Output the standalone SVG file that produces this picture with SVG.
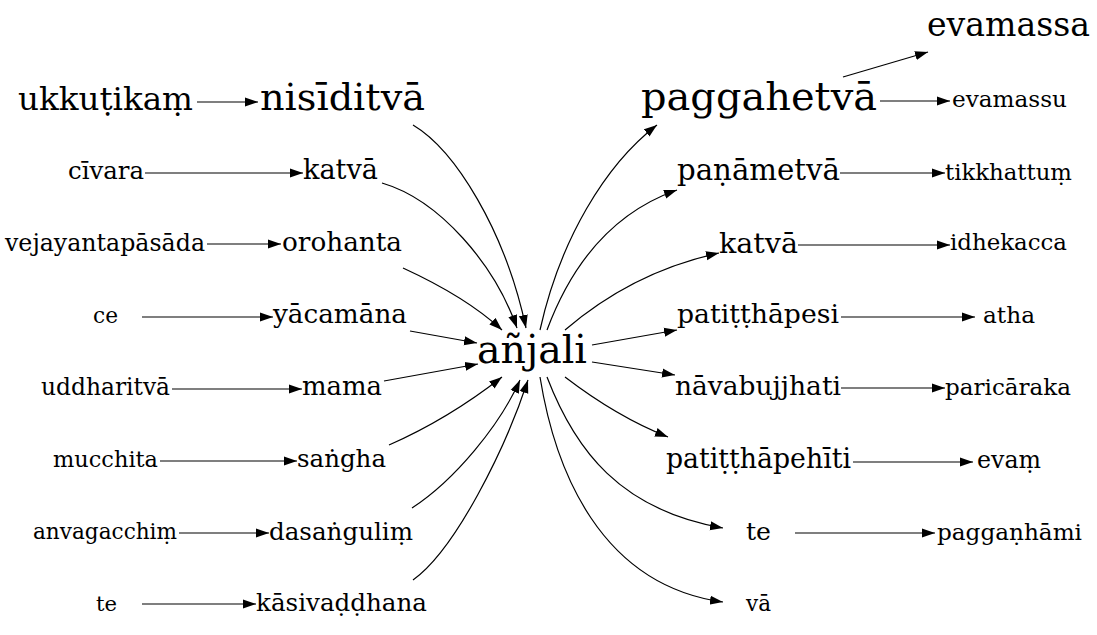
<svg xmlns="http://www.w3.org/2000/svg" width="1097" height="635" viewBox="0 0 1097 635">
<style>
text{font-family:"DejaVu Serif","Liberation Serif",serif;fill:#000;text-anchor:middle}
.e{fill:none;stroke:#000;stroke-width:1.2;marker-end:url(#ah)}
</style>
<defs>
<marker id="ah" markerUnits="userSpaceOnUse" markerWidth="13" markerHeight="10" viewBox="0 0 13 10" refX="13" refY="5" orient="auto">
<path d="M0,0.5 L13,5 L0,9.5 z" fill="#000"/>
</marker>
</defs>
<rect width="1097" height="635" fill="#fff"/>
<g id="edges">
<path class="e" d="M197,102 L258,102"/>
<path class="e" d="M145,173 L303,173"/>
<path class="e" d="M207,244 L281,244"/>
<path class="e" d="M142,317 L273,317"/>
<path class="e" d="M172,389 L302,389"/>
<path class="e" d="M160,461 L297,461"/>
<path class="e" d="M179,533 L269,533"/>
<path class="e" d="M142,604 L256,604"/>
<path class="e" d="M413,125 C455,150 505,230 526,328"/>
<path class="e" d="M382,183 C440,200 495,265 517,328"/>
<path class="e" d="M403,268 C440,285 475,305 502,330"/>
<path class="e" d="M410,331 L477,343"/>
<path class="e" d="M384,381 L478,364"/>
<path class="e" d="M389,445 C430,427 470,402 502,377"/>
<path class="e" d="M412,508 C455,480 500,425 520,380"/>
<path class="e" d="M413,580 C455,550 505,450 528,380"/>
<path class="e" d="M540,330 C560,240 605,165 657,125"/>
<path class="e" d="M547,330 C575,255 620,210 677,190"/>
<path class="e" d="M565,330 C600,300 650,268 719,253"/>
<path class="e" d="M592,345 L677,330"/>
<path class="e" d="M592,362 L675,375"/>
<path class="e" d="M565,377 C595,400 630,422 668,437"/>
<path class="e" d="M547,377 C575,450 620,510 723,528"/>
<path class="e" d="M540,377 C555,470 600,585 723,602"/>
<path class="e" d="M843,77 L928,52"/>
<path class="e" d="M880,101 L950,101"/>
<path class="e" d="M840,173 L945,173"/>
<path class="e" d="M798,245 L950,245"/>
<path class="e" d="M841,317 L975,317"/>
<path class="e" d="M841,388 L945,388"/>
<path class="e" d="M853,462 L973,462"/>
<path class="e" d="M795,533 L935,533"/>
</g>
<g id="n_ukkutikam"><text x="105.5" y="110" font-size="32.4" textLength="175" lengthAdjust="spacingAndGlyphs">ukkuṭikaṃ</text></g>
<g id="n_nisiditva"><text x="342.5" y="110" font-size="38" textLength="165" lengthAdjust="spacingAndGlyphs">nisīditvā</text></g>
<g id="n_civara"><text x="106" y="179" font-size="24.5" textLength="76" lengthAdjust="spacingAndGlyphs">cīvara</text></g>
<g id="n_katva_l"><text x="340.5" y="179" font-size="27" textLength="75" lengthAdjust="spacingAndGlyphs">katvā</text></g>
<g id="n_vejayantapasada"><text x="105" y="251" font-size="23.7" textLength="200" lengthAdjust="spacingAndGlyphs">vejayantapāsāda</text></g>
<g id="n_orohanta"><text x="342" y="251" font-size="26.3" textLength="120" lengthAdjust="spacingAndGlyphs">orohanta</text></g>
<g id="n_ce"><text x="105.5" y="323" font-size="21.7" textLength="25" lengthAdjust="spacingAndGlyphs">ce</text></g>
<g id="n_yacamana"><text x="340" y="323" font-size="26.3" textLength="134" lengthAdjust="spacingAndGlyphs">yācamāna</text></g>
<g id="n_uddharitva"><text x="105.5" y="395" font-size="23.4" textLength="129" lengthAdjust="spacingAndGlyphs">uddharitvā</text></g>
<g id="n_mama"><text x="342" y="395" font-size="26" textLength="80" lengthAdjust="spacingAndGlyphs">mama</text></g>
<g id="n_mucchita"><text x="105.5" y="467" font-size="22.5" textLength="105" lengthAdjust="spacingAndGlyphs">mucchita</text></g>
<g id="n_sangha"><text x="341.5" y="467" font-size="24.5" textLength="89" lengthAdjust="spacingAndGlyphs">saṅgha</text></g>
<g id="n_anvagacchim"><text x="105" y="539" font-size="21.6" textLength="144" lengthAdjust="spacingAndGlyphs">anvagacchiṃ</text></g>
<g id="n_dasangulim"><text x="341" y="540" font-size="24.6" textLength="144" lengthAdjust="spacingAndGlyphs">dasaṅguliṃ</text></g>
<g id="n_te_l"><text x="106.5" y="611" font-size="21" textLength="21" lengthAdjust="spacingAndGlyphs">te</text></g>
<g id="n_kasivaddhana"><text x="341.5" y="611" font-size="24.6" textLength="171" lengthAdjust="spacingAndGlyphs">kāsivaḍḍhana</text></g>
<g id="n_anjali"><text x="532" y="363" font-size="39.3" textLength="110" lengthAdjust="spacingAndGlyphs">añjali</text></g>
<g id="n_paggahetva"><text x="759" y="110" font-size="40" textLength="236" lengthAdjust="spacingAndGlyphs">paggahetvā</text></g>
<g id="n_panametva"><text x="758.5" y="180" font-size="29.2" textLength="163" lengthAdjust="spacingAndGlyphs">paṇāmetvā</text></g>
<g id="n_katva_r"><text x="758.5" y="253" font-size="28.5" textLength="79" lengthAdjust="spacingAndGlyphs">katvā</text></g>
<g id="n_patitthapesi"><text x="758" y="323" font-size="26.7" textLength="162" lengthAdjust="spacingAndGlyphs">patiṭṭhāpesi</text></g>
<g id="n_navabujjhati"><text x="758" y="395" font-size="26.2" textLength="166" lengthAdjust="spacingAndGlyphs">nāvabujjhati</text></g>
<g id="n_patitthapehiti"><text x="758.5" y="468" font-size="27.1" textLength="185" lengthAdjust="spacingAndGlyphs">patiṭṭhāpehīti</text></g>
<g id="n_te_r"><text x="758.5" y="540" font-size="25" textLength="25" lengthAdjust="spacingAndGlyphs">te</text></g>
<g id="n_va"><text x="758.5" y="611" font-size="21.6" textLength="25" lengthAdjust="spacingAndGlyphs">vā</text></g>
<g id="n_evamassa"><text x="1008.5" y="36" font-size="33" textLength="163" lengthAdjust="spacingAndGlyphs">evamassa</text></g>
<g id="n_evamassu"><text x="1009.5" y="107" font-size="23.2" textLength="115" lengthAdjust="spacingAndGlyphs">evamassu</text></g>
<g id="n_tikkhattum"><text x="1008.5" y="180" font-size="22.7" textLength="127" lengthAdjust="spacingAndGlyphs">tikkhattuṃ</text></g>
<g id="n_idhekacca"><text x="1008.5" y="250" font-size="22.8" textLength="117" lengthAdjust="spacingAndGlyphs">idhekacca</text></g>
<g id="n_atha"><text x="1009" y="323" font-size="23.2" textLength="52" lengthAdjust="spacingAndGlyphs">atha</text></g>
<g id="n_paricaraka"><text x="1008" y="395" font-size="23" textLength="126" lengthAdjust="spacingAndGlyphs">paricāraka</text></g>
<g id="n_evam"><text x="1009" y="468" font-size="23.7" textLength="64" lengthAdjust="spacingAndGlyphs">evaṃ</text></g>
<g id="n_pagganhami"><text x="1009.5" y="540" font-size="22.8" textLength="145" lengthAdjust="spacingAndGlyphs">paggaṇhāmi</text></g>
</svg>
